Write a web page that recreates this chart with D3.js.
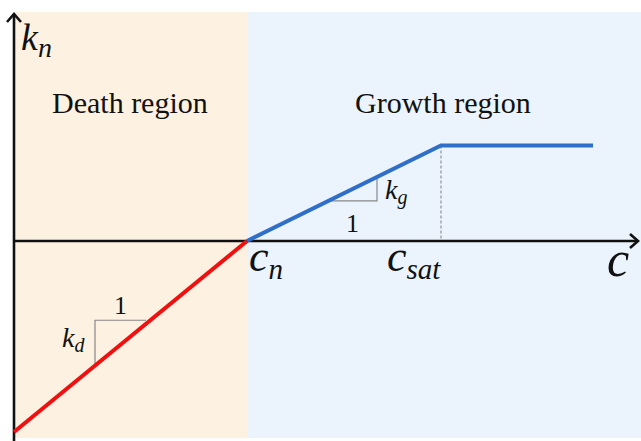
<!DOCTYPE html>
<html><head><meta charset="UTF-8"><script src="https://d3js.org/d3.v7.min.js"></script></head>
<body style="margin:0">
<div id="wrap" style="position:relative;width:641px;height:441px">
<svg id="s" width="641" height="441" style="position:absolute;left:0;top:0"></svg>
</div>
<script>
  const width = 641, height = 441;

  // key concentrations (arbitrary units)
  const cn = 4.66, csat = 8.54, cEnd = 11.58, cMax = 12.48;
  // piecewise growth-rate curve
  const deathC = [0, cn];
  const deathK = [-2, 0];
  const growthC = [cn, csat, cEnd];
  const growthK = [0, 1, 1];
  // slope triangles: [c0, c1, k]
  const growthTri = [6.28, 7.26, 0.42];
  const deathTri = [1.62, 2.64, -0.83];
  const regionNames = ["Death region", "Growth region"];
  const regionFrom = [0, cn];
  const regionTo = [cn, cMax];
  const regionColors = ["#fdf2e1", "#ebf3fd"];

  const svg = d3.select("#s");
  const wrap = d3.select("#wrap");

  const x = d3.scaleLinear().domain([0, cMax]).range([14, 638]);
  const y = d3.scaleLinear().domain([-2, 1]).range([432, 145.5]);

  // background regions
  svg.selectAll("rect")
    .data(regionNames)
    .join("rect")
    .attr("x", (d, i) => x(regionFrom[i]))
    .attr("width", (d, i) => Math.min(width, x(regionTo[i]) + 3) - x(regionFrom[i]))
    .attr("y", 12)
    .attr("height", 426)
    .attr("fill", (d, i) => regionColors[i]);

  // dashed guide at c_sat
  svg.append("line")
    .attr("x1", x(csat)).attr("x2", x(csat))
    .attr("y1", y(1)).attr("y2", y(0))
    .attr("stroke", "#999").attr("stroke-width", 1.3)
    .attr("stroke-dasharray", "3,2");

  // slope triangles
  const tri = (t, vertAtEnd) => {
    const [c0, c1, k] = t;
    if (vertAtEnd) {
      const kTop = (c1 - cn) / (csat - cn);
      return [[x(c0), y(k)], [x(c1), y(k)], [x(c1), y(kTop)]];
    }
    const kBot = -2 + 2 * c0 / cn;
    return [[x(c0), y(kBot)], [x(c0), y(k)], [x(c1), y(k)]];
  };
  svg.append("path")
    .attr("d", d3.line()(tri(growthTri, true)))
    .attr("fill", "none").attr("stroke", "#888").attr("stroke-width", 1.2);
  svg.append("path")
    .attr("d", d3.line()(tri(deathTri, false)))
    .attr("fill", "none").attr("stroke", "#888").attr("stroke-width", 1.2);

  // axes
  svg.append("line")
    .attr("x1", x(0)).attr("x2", x(0))
    .attr("y1", 441).attr("y2", 14)
    .attr("stroke", "#111").attr("stroke-width", 2.6);
  svg.append("line")
    .attr("x1", x(0)).attr("x2", 637)
    .attr("y1", y(0)).attr("y2", y(0))
    .attr("stroke", "#111").attr("stroke-width", 2.6);
  svg.append("path")
    .attr("d", `M${x(0) - 7},22 L${x(0)},14 L${x(0) + 7},22`)
    .attr("fill", "none").attr("stroke", "#111").attr("stroke-width", 2.6);
  svg.append("path")
    .attr("d", `M630,${y(0) - 7} L638,${y(0)} L630,${y(0) + 7}`)
    .attr("fill", "none").attr("stroke", "#111").attr("stroke-width", 2.6);

  // curves
  const line = d3.line().x(d => x(d[0])).y(d => y(d[1]));
  svg.append("path")
    .attr("d", line(d3.zip(deathC, deathK)))
    .attr("fill", "none").attr("stroke", "#f01010").attr("stroke-width", 4);
  svg.append("path")
    .attr("d", line(d3.zip(growthC, growthK)))
    .attr("fill", "none").attr("stroke", "#2f6fc8").attr("stroke-width", 4);

  // labels as html text laid over the svg (baseline-positioned)
  function label(px, baseline, base, sub, size, subSize, italic) {
    const div = wrap.append("div")
      .style("position", "absolute")
      .style("left", px + "px")
      .style("top", (baseline - 0.8375 * size) + "px")
      .style("font-family", "Liberation Serif")
      .style("font-size", size + "px")
      .style("line-height", "1")
      .style("white-space", "nowrap")
      .style("color", "#111")
      .style("font-style", italic ? "italic" : "normal");
    div.append("span").text(base);
    if (sub) {
      div.append("span")
        .style("font-size", subSize + "px")
        .style("position", "relative")
        .style("top", (size * 0.18) + "px")
        .text(sub);
    }
  }

  regionNames.forEach((d, i) => label(i === 0 ? 52 : 355, 113, d, null, 30, 0, false));

  label(21, 50, "k", "n", 38, 28, true);
  label(x(cn) + 2, 272, "c", "n", 44, 29, true);
  label(x(csat) - 54, 272, "c", "sat", 44, 29, true);
  label(607, 276, "c", null, 50, 0, true);
  label(385, 199, "k", "g", 28, 20, true);
  label(62, 347, "k", "d", 28, 20, true);

  label((x(growthTri[0]) + x(growthTri[1])) / 2 - 6.5, 233, "1", null, 26, 0, false);
  label((x(deathTri[0]) + x(deathTri[1])) / 2 - 6.5, 315, "1", null, 26, 0, false);
</script>
</body></html>
